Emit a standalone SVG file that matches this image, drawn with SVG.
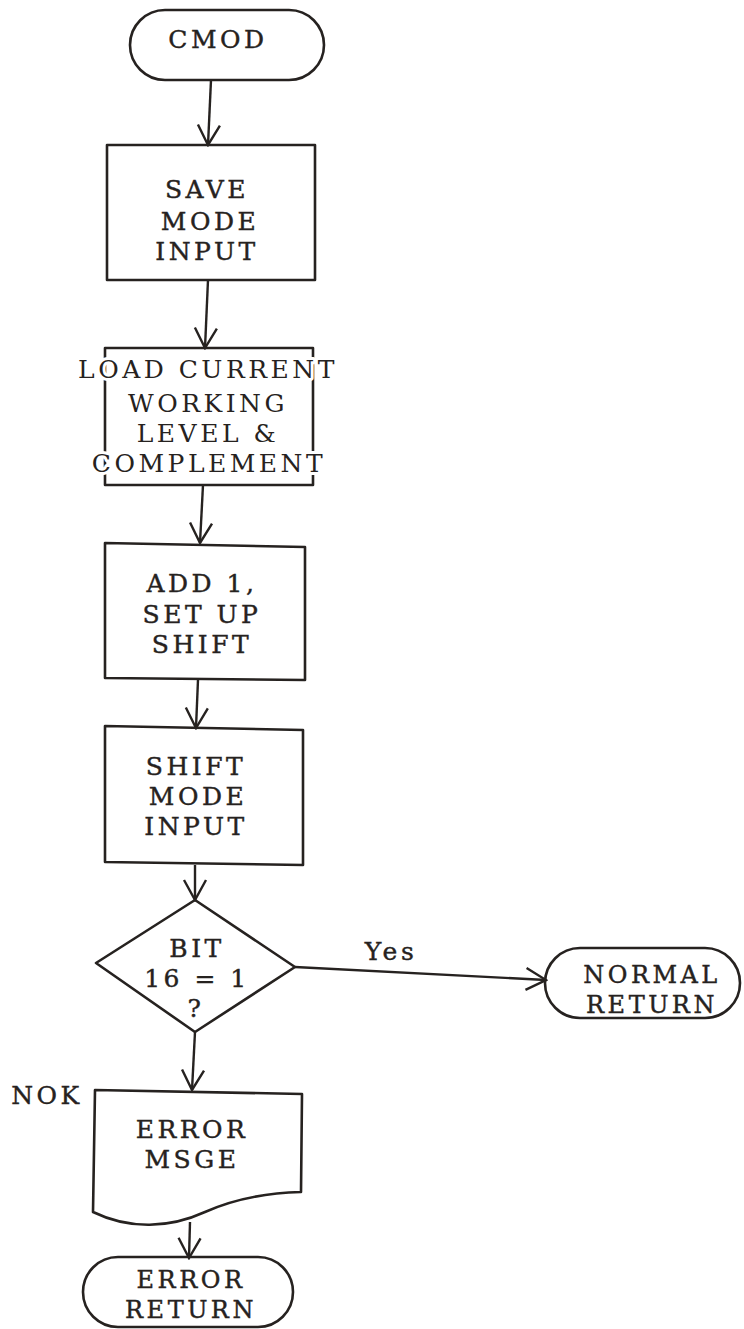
<svg xmlns="http://www.w3.org/2000/svg" width="744" height="1329" viewBox="0 0 744 1329">
<style>
.s{fill:none;stroke:#262220;stroke-width:2.6;stroke-linejoin:round;stroke-linecap:round}
.t{font-family:"DejaVu Serif","Liberation Serif",serif;font-size:25px;letter-spacing:3.5px;fill:#262220;stroke:#262220;stroke-width:0.4px;text-anchor:middle}
.r{font-size:24px}
.k{stroke:#ffffff;stroke-width:6px;paint-order:stroke;stroke-linejoin:round}
.c{fill:none;stroke:#262220;stroke-width:2.4}
</style>
<defs>
<marker id="ah" markerUnits="userSpaceOnUse" viewBox="-22 -13 24 26" refX="0" refY="0" markerWidth="24" markerHeight="26" orient="auto">
<path d="M-20,-11 L0,0 L-20,11" fill="none" stroke="#262220" stroke-width="2.4" stroke-linejoin="miter"/>
</marker>
</defs>
<rect width="744" height="1329" fill="#ffffff"/>
<g id="connectors">
<path class="c" d="M211,80 L208,145" marker-end="url(#ah)"/>
<path class="c" d="M208,280 L205,348" marker-end="url(#ah)"/>
<path class="c" d="M203,485 L200,543" marker-end="url(#ah)"/>
<path class="c" d="M198,680 L196,728" marker-end="url(#ah)"/>
<path class="c" d="M195,865 L195,900" marker-end="url(#ah)"/>
<path class="c" d="M295,967 L546,980" marker-end="url(#ah)"/>
<path class="c" d="M195,1032 L192,1090" marker-end="url(#ah)"/>
<path class="c" d="M190,1222 L189,1258" marker-end="url(#ah)"/>
<text class="t" x="391" y="960">Yes</text>
<text class="t" x="47" y="1104">NOK</text>
</g>
<g id="cmod">
<rect class="s" x="130" y="10" width="194" height="70" rx="35" ry="35"/>
<text class="t" x="218" y="48">CMOD</text>
</g>
<g id="save">
<rect class="s" x="107" y="145" width="208" height="135"/>
<text class="t" x="207" y="198">SAVE</text>
<text class="t" x="210" y="230">MODE</text>
<text class="t" x="207" y="260">INPUT</text>
</g>
<g id="load">
<rect class="s" x="105" y="348" width="208" height="137"/>
<text class="t k" x="208" y="378">LOAD CURRENT</text>
<text class="t k" x="208" y="412">WORKING</text>
<text class="t k" x="208" y="442">LEVEL &amp;</text>
<text class="t k" x="209" y="472">COMPLEMENT</text>
</g>
<g id="add">
<path class="s" d="M105,543 L305,547 L305,680 L105,678 Z"/>
<text class="t" x="202" y="592">ADD 1,</text>
<text class="t" x="202" y="623">SET UP</text>
<text class="t" x="202" y="653">SHIFT</text>
</g>
<g id="shift">
<path class="s" d="M105,726 L303,730 L303,865 L105,862 Z"/>
<text class="t" x="196" y="775">SHIFT</text>
<text class="t" x="198" y="805">MODE</text>
<text class="t" x="196" y="835">INPUT</text>
</g>
<g id="decision">
<path class="s" d="M195,900 L295,967 L195,1032 L96,963 Z"/>
<text class="t" x="197" y="957">BIT</text>
<text class="t" x="197" y="987">16 = 1</text>
<text class="t" x="196" y="1017">?</text>
</g>
<g id="normal">
<rect class="s" x="545" y="948" width="195" height="70" rx="35" ry="35"/>
<text class="t r" x="652" y="983">NORMAL</text>
<text class="t r" x="652" y="1013">RETURN</text>
</g>
<g id="error-msge">
<path class="s" d="M95,1090 L302,1094 L301,1192 C262,1193 232,1200 205,1212 C170,1228 130,1230 93,1212 Z"/>
<text class="t" x="192" y="1138">ERROR</text>
<text class="t" x="192" y="1168">MSGE</text>
</g>
<g id="error-return">
<rect class="s" x="83" y="1257" width="210" height="70" rx="35" ry="35"/>
<text class="t r" x="191" y="1288">ERROR</text>
<text class="t r" x="191" y="1318">RETURN</text>
</g>
</svg>
